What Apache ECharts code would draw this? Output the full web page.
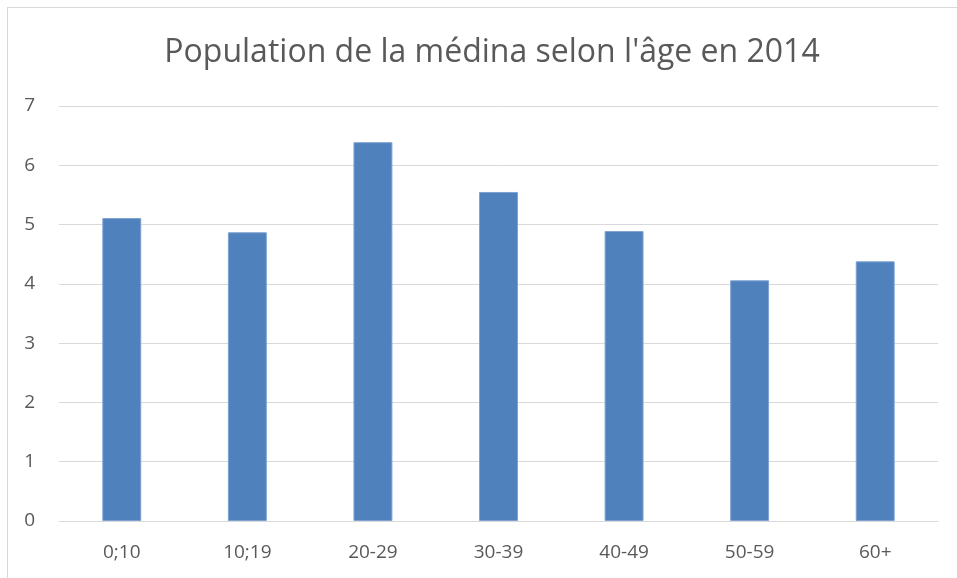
<!DOCTYPE html>
<html>
<head>
<meta charset="utf-8">
<script src="https://cdn.jsdelivr.net/npm/echarts@6/dist/echarts.min.js"></script>
<style>
  html, body { margin: 0; padding: 0; background: #fff; }
  #frame { position: absolute; left: 7px; top: 7px; width: 1000px; height: 600px; border: 1px solid #d9d9d9; }
  #chart { position: absolute; left: 0; top: 0; width: 957px; height: 578px; }
</style>
</head>
<body>
<div id="frame"></div>
<div id="chart"></div>
<script>
  // données
  var categories = ['0;10', '10;19', '20-29', '30-39', '40-49', '50-59', '60+'];
  var values = [5.11, 4.87, 6.39, 5.55, 4.89, 4.06, 4.38];
  var titleText = "Population de la médina selon l'âge en 2014";

  var myChart = echarts.init(document.getElementById('chart'));

  var option = {
    animation: false,
    title: {
      text: titleText,
      left: 487,
      textAlign: 'center',
      top: 32,
      textStyle: {
        color: '#595959',
        fontFamily: 'Open Sans',
        fontWeight: 'normal',
        fontSize: 32
      }
    },
    grid: {
      left: 59,
      right: 19,
      top: 106,
      bottom: 57,
      containLabel: false
    },
    xAxis: {
      type: 'category',
      data: categories,
      axisLine: { show: true, lineStyle: { color: '#d9d9d9', width: 1 } },
      axisTick: { show: false },
      axisLabel: {
        color: '#595959',
        fontFamily: 'Open Sans',
        fontSize: 19,
        margin: 22
      }
    },
    yAxis: {
      type: 'value',
      min: 0,
      max: 7,
      interval: 1,
      axisLine: { show: false },
      axisTick: { show: false },
      splitLine: { lineStyle: { color: '#d9d9d9', width: 1 } },
      axisLabel: {
        color: '#595959',
        fontFamily: 'Open Sans',
        fontSize: 19,
        margin: 24
      }
    },
    series: [{
      name: 'Population',
      type: 'bar',
      data: values,
      barWidth: '31%',
      itemStyle: {
        color: '#4f81bd',
        borderColor: '#7ea3d3',
        borderWidth: 1
      }
    }]
  };

  myChart.setOption(option);
</script>
</body>
</html>
